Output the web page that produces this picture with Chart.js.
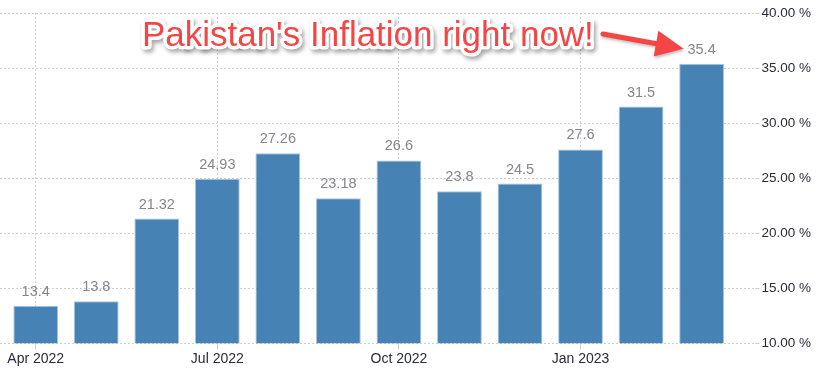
<!DOCTYPE html>
<html>
<head>
<meta charset="utf-8">
<script src="https://cdn.jsdelivr.net/npm/chart.js@4/dist/chart.umd.min.js"></script>
<style>
html,body{margin:0;padding:0;background:#fff;}
#wrap{width:829px;height:380px;}
</style>
</head>
<body>
<div id="wrap"><canvas id="c" width="829" height="380"></canvas></div>
<script>
const months = ["Apr 2022","May 2022","Jun 2022","Jul 2022","Aug 2022","Sep 2022","Oct 2022","Nov 2022","Dec 2022","Jan 2023","Feb 2023","Mar 2023"];
const inflation = [13.4, 13.8, 21.32, 24.93, 27.26, 23.18, 26.6, 23.8, 24.5, 27.6, 31.5, 35.4];
const valueLabels = ["13.4","13.8","21.32","24.93","27.26","23.18","26.6","23.8","24.5","27.6","31.5","35.4"];
const xTickIndexes = [0, 3, 6, 9];
const yTicks = [10, 15, 20, 25, 30, 35, 40];
const annotationText = "Pakistan's Inflation right now!";

const points = inflation.map((v, i) => ({x: i, y: v}));
const X_MIN = -0.59, X_MAX = 11.89;

const valueLabelPlugin = {
  id: 'valueLabels',
  afterDatasetsDraw(chart) {
    const ctx = chart.ctx;
    const meta = chart.getDatasetMeta(0);
    ctx.save();
    ctx.font = '14.5px "Liberation Sans", Arial, sans-serif';
    ctx.fillStyle = '#85858f';
    ctx.textAlign = 'center';
    ctx.textBaseline = 'alphabetic';
    meta.data.forEach((bar, i) => {
      ctx.fillText(valueLabels[i], bar.x, bar.y - 10);
    });
    ctx.restore();
  }
};

const annotationPlugin = {
  id: 'annot',
  afterDraw(chart) {
    const ctx = chart.ctx;
    const xs = chart.scales.x, ys = chart.scales.y;
    ctx.save();
    ctx.font = '34px "Liberation Sans", Arial, sans-serif';
    const targetW = 452;
    const w = ctx.measureText(annotationText).width;
    const size = 34 * targetW / w;
    ctx.font = size.toFixed(2) + 'px "Liberation Sans", Arial, sans-serif';
    const tx = 142, ty = 46;
    ctx.textBaseline = 'alphabetic';
    ctx.lineJoin = 'round';
    ctx.shadowColor = 'rgba(0,0,0,0.35)';
    ctx.shadowBlur = 4;
    ctx.shadowOffsetX = 2;
    ctx.shadowOffsetY = 3;
    ctx.strokeStyle = '#ffffff';
    ctx.lineWidth = 7;
    ctx.strokeText(annotationText, tx, ty);
    ctx.shadowColor = 'rgba(0,0,0,0)';
    ctx.fillStyle = '#f54545';
    ctx.fillText(annotationText, tx, ty);

    // arrow
    const x0 = 603, y0 = 34;
    const x1 = xs.getPixelForValue(11) - 18;
    const y1 = ys.getPixelForValue(inflation[11]) - 15;
    const ang = Math.atan2(y1 - y0, x1 - x0);
    const headLen = 28, headW = 13;
    ctx.shadowColor = 'rgba(0,0,0,0.25)';
    ctx.shadowBlur = 3;
    ctx.shadowOffsetX = 1;
    ctx.shadowOffsetY = 2;
    ctx.strokeStyle = '#f54545';
    ctx.fillStyle = '#f54545';
    ctx.lineWidth = 5;
    ctx.lineCap = 'round';
    const bx = x1 - headLen * Math.cos(ang), by = y1 - headLen * Math.sin(ang);
    ctx.beginPath();
    ctx.moveTo(x0, y0);
    ctx.lineTo(bx + 2*Math.cos(ang), by + 2*Math.sin(ang));
    ctx.stroke();
    ctx.beginPath();
    ctx.moveTo(x1, y1);
    ctx.lineTo(bx + headW * Math.sin(ang), by - headW * Math.cos(ang));
    ctx.lineTo(bx - headW * Math.sin(ang), by + headW * Math.cos(ang));
    ctx.closePath();
    ctx.fill();
    ctx.restore();
  }
};

new Chart(document.getElementById('c'), {
  type: 'bar',
  data: {
    datasets: [{
      data: points,
      xAxisID: 'x',
      yAxisID: 'y',
      backgroundColor: '#4682b4',
      borderColor: '#a9c4dc',
      borderWidth: 1,
      categoryPercentage: 1,
      barPercentage: 0.74
    }]
  },
  options: {
    responsive: false,
    animation: false,
    layout: {padding: {top: 13, right: 16, bottom: 10, left: 0}},
    plugins: {legend: {display: false}, tooltip: {enabled: false}},
    scales: {
      x: {
        type: 'linear',
        display: false,
        min: X_MIN,
        max: X_MAX,
        offset: false
      },
      xl: {
        type: 'linear',
        axis: 'x',
        position: 'bottom',
        min: X_MIN,
        max: X_MAX,
        offset: false,
        afterBuildTicks(scale) { scale.ticks = xTickIndexes.map(v => ({value: v})); },
        ticks: {
          callback: (v) => months[v],
          color: '#2a2a3a',
          font: {family: '"Liberation Sans", Arial, sans-serif', size: 14},
          maxRotation: 0,
          autoSkip: false,
          padding: 2
        },
        grid: {offset: false, color: '#cfcfcf', tickLength: 6, tickColor: '#cfcfcf'},
        border: {display: false, dash: [2, 2]}
      },
      y: {
        position: 'right',
        min: 10,
        max: 40,
        afterBuildTicks(scale) { scale.ticks = yTicks.map(v => ({value: v})); },
        ticks: {
          callback: (v) => v.toFixed(2) + ' %',
          color: '#2a2a3a',
          font: {family: '"Liberation Sans", Arial, sans-serif', size: 13.5},
          padding: 2
        },
        grid: {color: '#cfcfcf', tickLength: 4},
        border: {display: false, dash: [2, 2]}
      }
    }
  },
  plugins: [valueLabelPlugin, annotationPlugin]
});
</script>
</body>
</html>
